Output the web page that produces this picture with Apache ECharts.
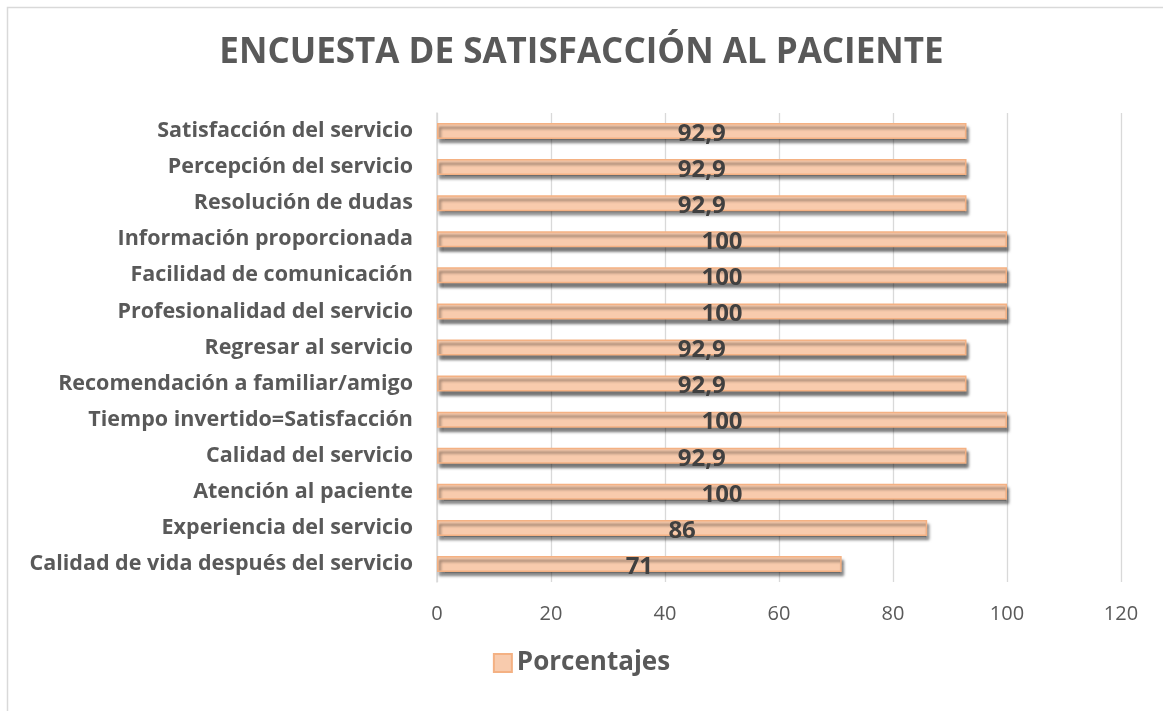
<!DOCTYPE html>
<html>
<head>
<meta charset="utf-8">
<script src="https://cdn.jsdelivr.net/npm/echarts@6/dist/echarts.min.js"></script>
<style>
html,body{margin:0;padding:0;background:#fff;}
#chart{width:1163px;height:711px;}
</style>
</head>
<body>
<div id="chart"></div>
<script>
const title = 'ENCUESTA DE SATISFACCIÓN AL PACIENTE';
const seriesName = 'Porcentajes';
const categories = [
  'Satisfacción del servicio',
  'Percepción del servicio',
  'Resolución de dudas',
  'Información proporcionada',
  'Facilidad de comunicación',
  'Profesionalidad del servicio',
  'Regresar al servicio',
  'Recomendación a familiar/amigo',
  'Tiempo invertido=Satisfacción',
  'Calidad del servicio',
  'Atención al paciente',
  'Experiencia del servicio',
  'Calidad de vida después del servicio'
];
const values = [92.9, 92.9, 92.9, 100, 100, 100, 92.9, 92.9, 100, 92.9, 100, 86, 71];
const xTicks = [0, 20, 40, 60, 80, 100, 120];

const FONT = '"Open Sans", sans-serif';
const chart = echarts.init(document.getElementById('chart'));
chart.setOption({
  animation: false,
  backgroundColor: '#fff',
  graphic: [{
    type: 'rect', z: -10,
    shape: {x: 7.5, y: 7.5, width: 1200, height: 800},
    style: {fill: 'none', stroke: '#d9d9d9', lineWidth: 1.5}
  }],
  title: {
    text: title, left: 'center', top: 31,
    textStyle: {fontFamily: FONT, fontWeight: 'bold', fontSize: 35, color: '#595959'}
  },
  legend: {
    bottom: 30, left: 'center',
    itemWidth: 18, itemHeight: 18, itemGap: 6,
    icon: 'rect',
    textStyle: {fontFamily: FONT, fontWeight: 'bold', fontSize: 26, color: '#595959'},
    data: [seriesName]
  },
  grid: {left: 437, right: 42, top: 113, bottom: 129, containLabel: false},
  xAxis: {
    type: 'value', min: 0, max: 120, interval: 20,
    axisLine: {show: false}, axisTick: {show: false},
    splitLine: {show: true, lineStyle: {color: '#d9d9d9', width: 1.3}},
    axisLabel: {
      fontFamily: FONT, fontSize: 20, color: '#595959', margin: 22,
      formatter: v => xTicks.includes(v) ? String(v) : ''
    }
  },
  yAxis: {
    type: 'category', data: categories, inverse: true,
    axisLine: {show: true, lineStyle: {color: '#d9d9d9', width: 1.5}},
    axisTick: {show: false},
    axisLabel: {fontFamily: FONT, fontWeight: 'bold', fontSize: 21.5, color: '#595959', margin: 24, padding: [6, 0, 0, 0]}
  },
  series: [{
    name: seriesName, type: 'bar', data: values, barWidth: 16,
    itemStyle: {
      color: '#F8CBAD', borderColor: '#F4B183', borderWidth: 1.5,
      shadowColor: 'rgba(0,0,0,0.55)', shadowOffsetX: 2, shadowOffsetY: 4, shadowBlur: 3
    },
    label: {
      show: true, position: 'inside', offset: [0, 3],
      fontFamily: FONT, fontWeight: 'bold', fontSize: 24, color: '#404040',
      formatter: p => String(p.value).replace('.', ',')
    }
  }]
});
</script>
</body>
</html>
